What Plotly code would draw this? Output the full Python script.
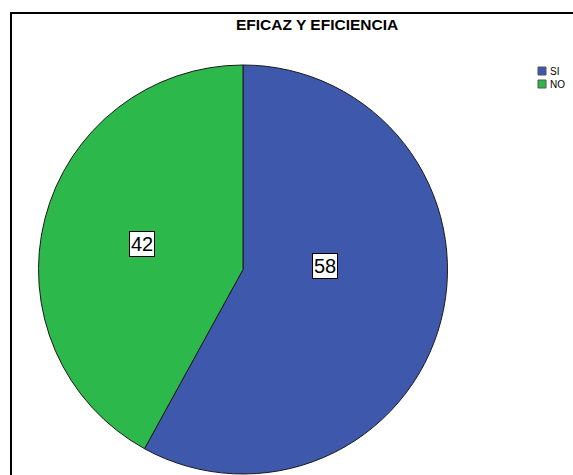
import math
import plotly.graph_objects as go

# ---- data ----
categories = ["SI", "NO"]
values = [58, 42]
colors = ["#3E58AC", "#2DB84B"]
title_text = "EFICAZ Y EFICIENCIA"

W, H = 573, 475
cx, cy, R = 243, 269.5, 204.5  # pie geometry in pixels (from top-left)

fig = go.Figure()
fig.add_trace(go.Pie(
    labels=categories,
    values=values,
    marker=dict(colors=colors, line=dict(color="#1a1a1a", width=1)),
    sort=False,
    direction="clockwise",
    rotation=0,
    textinfo="none",
    hoverinfo="label+value",
    showlegend=False,
    domain=dict(x=[(cx - R) / W, (cx + R) / W],
                y=[(H - cy - R) / H, (H - cy + R) / H]),
))

# value labels with white boxes, positioned inside each slice
total = sum(values)
label_radius = [0.40, 0.51]
label_angle_frac = [0.42, 0.5]  # position within each slice's angular span
start = 0.0
annotations = []
for v, rf, af in zip(values, label_radius, label_angle_frac):
    ang = (start + v * af) / total * 2 * math.pi  # clockwise from top
    start += v
    px = cx + rf * R * math.sin(ang)
    py = cy - rf * R * math.cos(ang)
    annotations.append(dict(
        x=px / W, y=1 - py / H, xref="paper", yref="paper",
        text=str(v), showarrow=False,
        font=dict(family="Liberation Sans, Arial", size=20, color="black"),
        bgcolor="white", bordercolor="black", borderwidth=1, borderpad=1,
        xanchor="center", yanchor="middle",
    ))

# title
annotations.append(dict(
    x=317 / W, y=1 - 25 / H, xref="paper", yref="paper",
    text="<b>" + title_text + "</b>", showarrow=False,
    font=dict(family="Liberation Sans, Arial", size=15.5, color="black"),
    xanchor="center", yanchor="middle",
))

shapes = [dict(type="rect", xref="paper", yref="paper",
               x0=11 / W, x1=1.2, y0=1 - 13 / H, y1=-0.2,
               line=dict(color="black", width=2), fillcolor="rgba(0,0,0,0)",
               layer="below")]

# legend
for i, (cat, col) in enumerate(zip(categories, colors)):
    top = 67 + i * 13
    shapes.append(dict(type="rect", xref="paper", yref="paper",
                       x0=538 / W, x1=546 / W,
                       y0=1 - top / H, y1=1 - (top + 8) / H,
                       fillcolor=col, line=dict(color="#555555", width=1)))
    annotations.append(dict(
        x=548 / W, y=1 - (top + 4) / H, xref="paper", yref="paper",
        text=cat, showarrow=False,
        font=dict(family="Liberation Sans, Arial", size=10, color="black"),
        xanchor="left", yanchor="middle",
    ))

fig.update_layout(
    width=W, height=H,
    margin=dict(l=0, r=0, t=0, b=0),
    paper_bgcolor="white", plot_bgcolor="white",
    annotations=annotations, shapes=shapes,
)

fig.write_html("out.html")
